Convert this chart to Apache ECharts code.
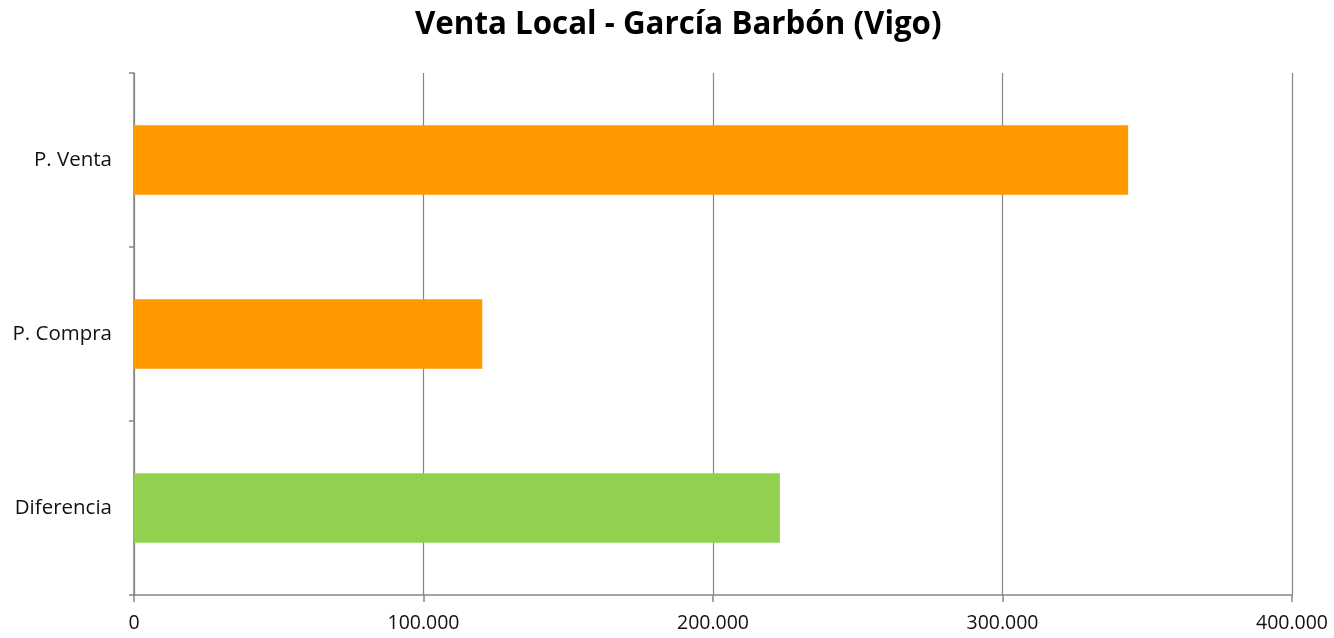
<!DOCTYPE html>
<html>
<head>
<meta charset="utf-8">
<script src="https://cdn.jsdelivr.net/npm/echarts@6/dist/echarts.min.js"></script>
<style>
  html, body { margin: 0; padding: 0; background: #fff; }
  #chart { width: 1334px; height: 638px; }
</style>
</head>
<body>
<div id="chart"></div>
<script>
// datos del gráfico
const categories = ['P. Venta', 'P. Compra', 'Diferencia']
const values = [343400, 120300, 223100]
const xTicks = [0, 100000, 200000, 300000, 400000]

const barColors = ['#FF9900', '#FF9900', '#92D050']
const gridGray = '#868686'

const fmt = v => String(v).replace(/\B(?=(\d{3})+(?!\d))/g, '.')

const chart = echarts.init(document.getElementById('chart'))

chart.setOption({
  animation: false,
  title: {
    text: 'Venta Local - García Barbón (Vigo)',
    left: 410,
    top: 5,
    textStyle: {
      fontFamily: 'Open Sans',
      fontWeight: 'bold',
      fontSize: 31.3,
      color: '#000'
    }
  },
  grid: {
    left: 134,
    right: 42,
    top: 73,
    bottom: 43,
    containLabel: false
  },
  xAxis: {
    type: 'value',
    min: xTicks[0],
    max: xTicks[xTicks.length - 1],
    interval: xTicks[1] - xTicks[0],
    axisLine: { show: true, lineStyle: { color: gridGray, width: 1.5 } },
    axisTick: { show: true, length: 7, lineStyle: { color: gridGray, width: 1.5 } },
    splitLine: { show: true, lineStyle: { color: gridGray, width: 1.2 } },
    axisLabel: {
      formatter: v => fmt(v),
      fontFamily: 'Open Sans',
      fontSize: 19.5,
      color: '#111',
      margin: 18
    }
  },
  yAxis: {
    type: 'category',
    data: categories,
    inverse: true,
    axisLine: { show: true, lineStyle: { color: gridGray, width: 1.5 } },
    axisTick: { show: true, length: 5, lineStyle: { color: gridGray, width: 1.5 } },
    axisLabel: {
      fontFamily: 'Open Sans',
      fontSize: 20.5,
      color: '#111',
      margin: 22
    }
  },
  series: [
    {
      type: 'bar',
      data: values,
      barCategoryGap: '60%',
      itemStyle: {
        color: p => barColors[p.dataIndex]
      }
    }
  ]
})
</script>
</body>
</html>
